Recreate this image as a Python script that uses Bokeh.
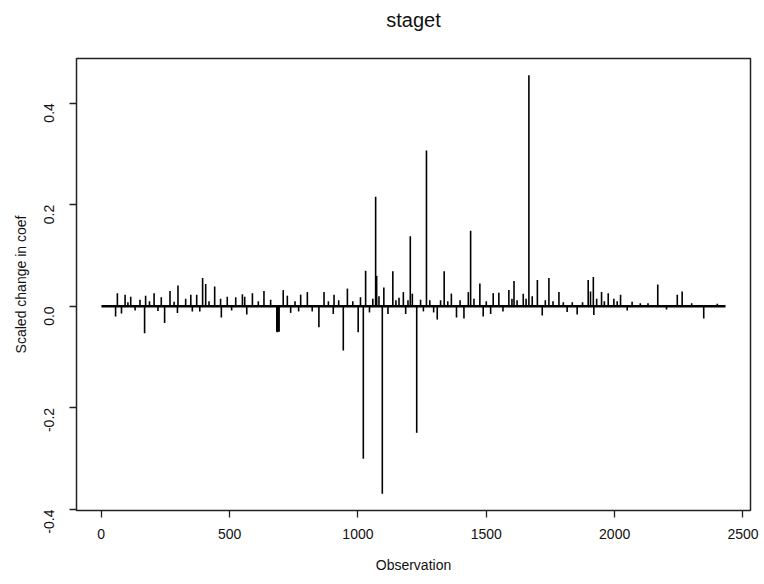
import math
from bokeh.plotting import figure
from bokeh.models import Range1d, FixedTicker, PrintfTickFormatter
from bokeh.embed import file_html
from bokeh.resources import INLINE

# ---- data ----
n_obs = 2432
observation = [
    56, 63, 79, 93, 104, 115, 132, 151, 169, 173, 188, 206, 221, 234, 247, 268, 284, 297, 299, 329, 349,
    355, 372, 384, 395, 407, 420, 442, 465, 468, 491, 508, 524, 550, 559, 567, 589, 612, 634, 660,
    684, 687, 690, 693, 709, 725, 738, 755, 769, 777, 803, 822, 848, 868, 885, 904, 907, 925, 943,
    959, 980, 1001, 1010, 1021, 1030, 1045, 1058, 1069, 1073, 1082, 1095, 1101, 1117, 1136, 1148, 1160, 1177,
    1186, 1195, 1204, 1212, 1229, 1244, 1255, 1267, 1280, 1295, 1309, 1322, 1336, 1350, 1364, 1384, 1398, 1413, 1430, 1439,
    1452, 1475, 1488, 1500, 1517, 1527, 1549, 1565, 1588, 1600, 1608, 1620, 1644, 1655, 1666, 1679, 1699, 1718, 1730, 1744,
    1760, 1783, 1800, 1815, 1835, 1854, 1875, 1897, 1906, 1917, 1919, 1930, 1949, 1960, 1975, 1997, 2010, 2023, 2049,
    2068, 2100, 2130, 2168, 2202, 2244, 2263, 2300, 2347, 2400,
]
scaled_change = [
    -0.020, 0.026, -0.014, 0.023, 0.008, 0.019, -0.008, 0.013, -0.053, 0.021, 0.010, 0.026, -0.009, 0.018, -0.033, 0.030, 0.009, -0.013, 0.041, 0.015, 0.023,
    -0.010, 0.023, -0.010, 0.056, 0.044, 0.010, 0.039, 0.015, -0.022, 0.019, -0.008, 0.018, 0.024, 0.019, -0.016, 0.026, 0.010, 0.030, 0.013,
    -0.050, -0.051, -0.049, -0.050, 0.032, 0.021, -0.013, 0.010, -0.010, 0.023, 0.028, -0.010, -0.041, 0.028, 0.010, -0.015, 0.023, 0.012, -0.087,
    0.035, 0.010, -0.051, 0.018, -0.300, 0.070, -0.012, 0.015, 0.216, 0.060, 0.020, -0.369, 0.037, -0.015, 0.069, 0.012, 0.017, 0.028,
    -0.015, 0.012, 0.138, 0.025, -0.249, 0.013, -0.010, 0.307, 0.012, -0.012, -0.026, 0.012, 0.069, 0.010, 0.025, -0.022, 0.012, -0.024, 0.028, 0.149,
    0.015, 0.045, -0.020, 0.010, -0.015, 0.026, 0.027, -0.010, 0.032, 0.015, 0.050, 0.012, 0.025, 0.015, 0.455, 0.020, 0.052, -0.018, 0.012, 0.056,
    0.010, 0.028, 0.008, -0.011, 0.008, -0.016, 0.008, 0.052, 0.029, 0.058, -0.017, 0.015, 0.028, 0.010, 0.026, 0.015, 0.010, 0.023, -0.008,
    0.009, 0.006, 0.006, 0.043, -0.006, 0.023, 0.029, 0.006, -0.024, 0.005,
]
x_ticks = [0, 500, 1000, 1500, 2000, 2500]
y_ticks = [-0.4, -0.2, 0.0, 0.2, 0.4]
title_text = "staget"

# R-style 4% range extension
xlo, xhi = 1, n_obs
xe = 0.04 * (xhi - xlo)
ylo, yhi = min(scaled_change), max(scaled_change)
ye = 0.04 * (yhi - ylo)

FONT = "Liberation Sans"

p = figure(
    width=764, height=584,
    x_range=Range1d(xlo - xe, xhi + xe),
    y_range=Range1d(ylo - ye, yhi + ye),
    output_backend="svg", toolbar_location=None,
    min_border_left=76, min_border_right=14,
    min_border_top=58, min_border_bottom=74,
)
p.background_fill_color = "white"
p.border_fill_color = "white"
p.outline_line_color = "#222222"
p.outline_line_width = 1.5
p.xgrid.visible = False
p.ygrid.visible = False

# title: a trailing empty line lifts it away from the frame (R's "main" line)
p.title.text = title_text + "\n"
p.title.align = "center"
p.title.text_font = FONT
p.title.text_font_size = "20px"
p.title.text_font_style = "normal"
p.title.text_color = "#111111"
p.title.text_line_height = 1.2
p.title.standoff = 2

# baseline made by the dense tiny changes
p.segment(x0=[xlo], y0=[0], x1=[xhi], y1=[0], line_color="black", line_width=2.5)
# spikes (type = "h")
p.segment(x0=observation, y0=[0] * len(observation), x1=observation, y1=scaled_change,
          line_color="black", line_width=1.6)

for ax in (p.xaxis[0], p.yaxis[0]):
    ax.axis_line_color = None
    ax.major_tick_line_color = "#222222"
    ax.major_tick_line_width = 1.3
    ax.major_tick_out = 7
    ax.major_tick_in = 0
    ax.minor_tick_line_color = None
    ax.major_label_text_font = FONT
    ax.major_label_text_font_size = "14px"
    ax.major_label_text_color = "#111111"
    ax.axis_label_text_font = FONT
    ax.axis_label_text_font_size = "14px"
    ax.axis_label_text_font_style = "normal"
    ax.axis_label_text_color = "#111111"

p.xaxis.ticker = FixedTicker(ticks=x_ticks)
p.xaxis.axis_label = "Observation"
p.xaxis.major_label_standoff = 11
p.xaxis.axis_label_standoff = 15

p.yaxis.ticker = FixedTicker(ticks=y_ticks)
p.yaxis.formatter = PrintfTickFormatter(format="%.1f")
p.yaxis.major_label_orientation = math.pi / 2
p.yaxis.axis_label = "Scaled change in coef"
p.yaxis.major_label_standoff = 20
p.yaxis.axis_label_standoff = 8

open("out.html", "w").write(file_html(p, INLINE))
